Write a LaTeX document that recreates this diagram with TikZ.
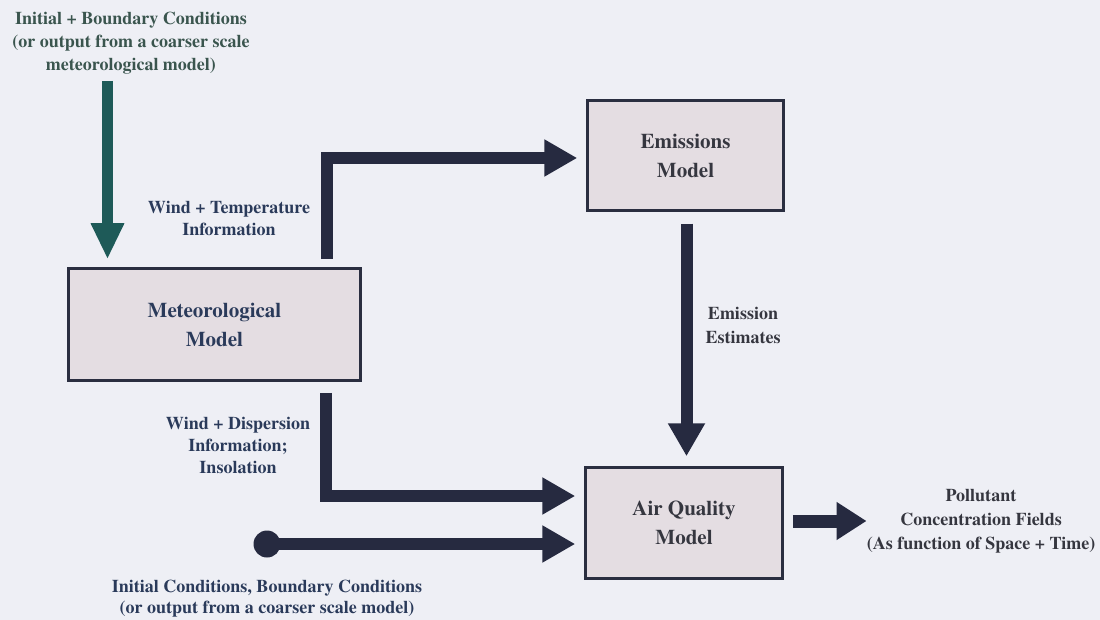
\documentclass[tikz,border=0pt]{standalone}
\usepackage{fontspec}
\newfontfamily\tnrb{texgyretermes-bold.otf}
\usetikzlibrary{arrows.meta,calc}
\definecolor{bg}{HTML}{EEEFF5}
\definecolor{boxfill}{HTML}{E4DDE2}
\definecolor{boxline}{HTML}{2A2E40}
\definecolor{navy}{HTML}{262A40}
\definecolor{tealc}{HTML}{1E5A58}
\definecolor{labnavy}{HTML}{2A3A5A}
\definecolor{labgray}{HTML}{35363F}
\definecolor{tltext}{HTML}{3A554E}
\tikzset{
  modelbox/.style={draw=boxline, fill=boxfill, line width=2.5pt, align=center,
    font=\tnrb\fontsize{21}{29}\selectfont, inner sep=0pt},
  lab/.style={align=center, inner sep=0pt, font=\tnrb\fontsize{18}{22}\selectfont},
  fatarrow/.style={draw=navy, line width=12pt, line join=miter,
    -{Triangle[length=33pt,width=35pt]}},
  tealarrow/.style={draw=tealc, line width=11pt,
    -{Triangle[length=36pt,width=31pt]}},
  dotnode/.style={circle, fill=navy, minimum size=27pt, inner sep=0pt}
}
\begin{document}
\begin{tikzpicture}[x=1pt,y=-1pt]
\fill[bg] (0,0) rectangle (1100,620);
\useasboundingbox (0,0) rectangle (1100,620);

% boxes
\node[modelbox, minimum width=292pt, minimum height=112pt, text=labnavy] (met) at (214.5,324.5) {Meteorological\\Model};
\node[modelbox, minimum width=196pt, minimum height=110pt, text=labgray] (emis) at (685.5,155.5) {Emissions\\Model};
\node[modelbox, minimum width=197pt, minimum height=111pt, text=labgray] (aq) at (684,523) {Air Quality\\Model};

% labels
\node[lab, text=tltext, font=\tnrb\fontsize{18}{23}\selectfont] (tl) at (131,43) {Initial + Boundary Conditions\\(or output from a coarser scale\\meteorological model)};
\node[lab, text=labnavy] (wt) at (229,218) {Wind + Temperature\\Information};
\node[lab, text=labnavy] (wd) at (238,445) {Wind + Dispersion\\Information;\\Insolation};
\node[lab, text=labgray, font=\tnrb\fontsize{18}{24}\selectfont] (ee) at (743,325) {Emission\\Estimates};
\node[lab, text=labgray, font=\tnrb\fontsize{18}{24}\selectfont] (pol) at (981,521) {Pollutant\\Concentration Fields\\(As function of Space + Time)};
\node[lab, text=labnavy, font=\tnrb\fontsize{18}{21}\selectfont] (ic) at (267,598.5) {Initial Conditions, Boundary Conditions\\(or output from a coarser scale model)};

% teal arrow
\coordinate (tlarr) at (107.5,81);
\draw[tealarrow, shorten >=8pt] (tlarr) -- (tlarr |- met.north);

% upper L arrow to emissions
\draw[fatarrow, shorten >=9pt] ([xshift=112.5pt,yshift=8pt]met.north) |- ([yshift=-2.5pt]emis.west);

% emission estimates
\draw[fatarrow, shorten <=12pt, shorten >=10pt] ([xshift=1pt]emis.south) -- ([xshift=1pt]emis.south |- aq.north);

% lower L arrow to AQ
\draw[fatarrow, shorten >=9pt] ([xshift=111.5pt,yshift=-11pt]met.south) |- ([yshift=27pt]aq.west);

% dot arrow
\node[dotnode] (dot) at (267,544) {};
\draw[fatarrow, shorten >=9pt] (dot.center) -- (dot.center -| aq.west);

% output arrow
\draw[fatarrow, line width=13pt, -{Triangle[length=30pt,width=36pt]}, shorten <=9pt] ([yshift=2pt]aq.east) -- ([yshift=2pt]aq.east -| pol.west);
\end{tikzpicture}
\end{document}
